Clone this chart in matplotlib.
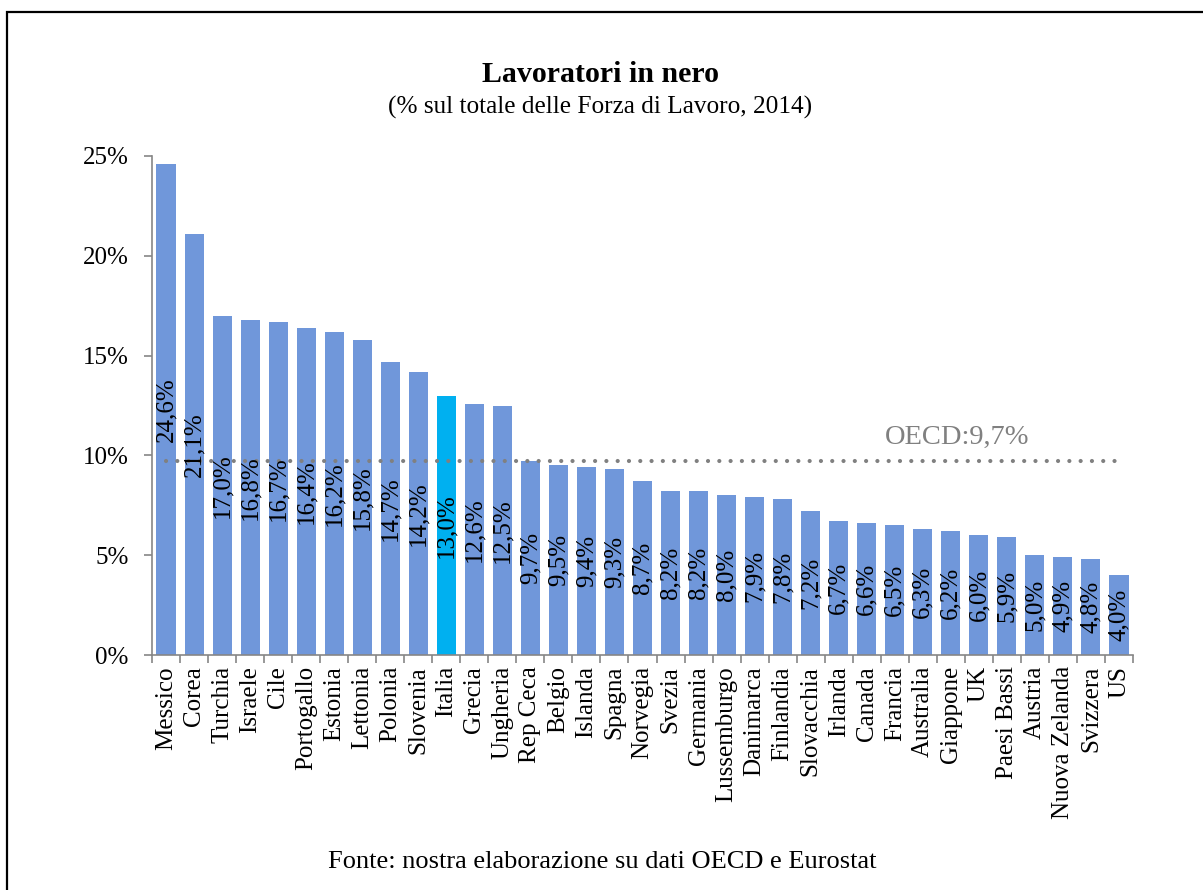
import matplotlib
matplotlib.use("Agg")
import matplotlib.pyplot as plt
from matplotlib.patches import Rectangle
import numpy as np

plt.rcParams['font.family'] = ['Liberation Serif', 'DejaVu Serif']

paesi = ["Messico", "Corea", "Turchia", "Israele", "Cile", "Portogallo", "Estonia",
         "Lettonia", "Polonia", "Slovenia", "Italia", "Grecia", "Ungheria", "Rep Ceca",
         "Belgio", "Islanda", "Spagna", "Norvegia", "Svezia", "Germania", "Lussemburgo",
         "Danimarca", "Finlandia", "Slovacchia", "Irlanda", "Canada", "Francia",
         "Australia", "Giappone", "UK", "Paesi Bassi", "Austria", "Nuova Zelanda",
         "Svizzera", "US"]
quota_nero = [24.6, 21.1, 17.0, 16.8, 16.7, 16.4, 16.2, 15.8, 14.7, 14.2, 13.0, 12.6,
              12.5, 9.7, 9.5, 9.4, 9.3, 8.7, 8.2, 8.2, 8.0, 7.9, 7.8, 7.2, 6.7, 6.6,
              6.5, 6.3, 6.2, 6.0, 5.9, 5.0, 4.9, 4.8, 4.0]
media_oecd = 9.7
yticks = [0, 5, 10, 15, 20, 25]

W, H = 1203, 890
fig = plt.figure(figsize=(W / 100, H / 100), dpi=100)

# outer frame
fig.patches.append(Rectangle((7 / W, -0.05), 1.2, (1 - 12 / H) + 0.05,
                             transform=fig.transFigure, fill=False,
                             edgecolor='black', linewidth=1.6))

ax = fig.add_axes([152 / W, 1 - 655 / H, (1133 - 152) / W, (655 - 156) / H])

x = np.arange(len(paesi))
colori = ['#00B0F0' if p == "Italia" else '#7097DA' for p in paesi]
bars = ax.bar(x, quota_nero, width=0.68, color=colori, zorder=2)

for xi, v in zip(x, quota_nero):
    ax.text(xi, v / 2, f"{v:.1f}%".replace('.', ','), rotation=90,
            ha='center', va='center', fontsize=18, color='black', zorder=4)

# OECD average line
ax.plot([x[0], x[-1]], [media_oecd, media_oecd], color='#808080', linewidth=3.0,
        linestyle=(0, (0.01, 2.7)), dash_capstyle='round', zorder=3)
ax.text(28.22, 10.9, f"OECD:{media_oecd:.1f}%".replace('.', ','), ha='center',
        va='center', fontsize=20.5, color='#808080')

ax.set_xlim(-0.5, len(paesi) - 0.5)
ax.set_ylim(0, 25)
ax.set_yticks(yticks)
ax.set_yticklabels([f"{t}%" for t in yticks], fontsize=18)
ax.set_xticks(x)
ax.set_xticklabels(paesi, rotation=90, fontsize=18)
ax.tick_params(axis='x', length=0, pad=8)
ax.set_xticks(np.arange(-0.5, len(paesi)), minor=True)
ax.tick_params(axis='x', which='minor', length=6, color='#868686', width=1.2)
ax.tick_params(axis='y', length=6, color='#868686', width=1.2, pad=11)

for s in ['top', 'right']:
    ax.spines[s].set_visible(False)
for s in ['left', 'bottom']:
    ax.spines[s].set_color('#868686')
    ax.spines[s].set_linewidth(1.2)

fig.text(601 / W, 1 - 75 / H, "Lavoratori in nero", ha='center', va='center',
         fontsize=21.5, fontweight='bold')
fig.text(600 / W, 1 - 107 / H, "(% sul totale delle Forza di Lavoro, 2014)",
         ha='center', va='center', fontsize=18.2)
fig.text(602 / W, 1 - 862 / H, "Fonte: nostra elaborazione su dati OECD e Eurostat",
         ha='center', va='center', fontsize=19)

fig.savefig("out.png", dpi=100, facecolor='white')
